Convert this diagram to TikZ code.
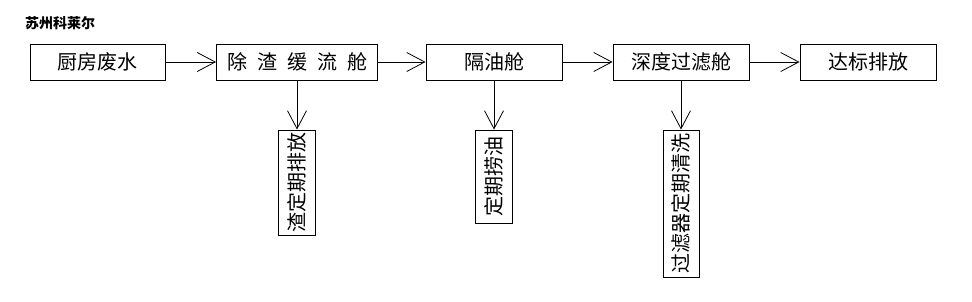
\documentclass[tikz,border=0pt]{standalone}
\usepackage{fontspec}
\setmainfont{Noto Sans CJK SC}
\usetikzlibrary{arrows.meta}
\tikzset{
  box/.style={draw=black, line width=0.9pt, inner sep=0pt, minimum height=36pt,
              font=\fontsize{20pt}{20pt}\selectfont},
  vbox/.style={draw=black, line width=0.9pt, inner sep=0pt, rotate=90,
              font=\fontsize{20pt}{20pt}\selectfont},
  flow/.style={line width=0.8pt, -{Straight Barb[length=18pt,width=19pt,line width=0.8pt]}},
}
\begin{document}
\begin{tikzpicture}[x=1pt,y=-1pt]
\useasboundingbox (0,0) rectangle (972,301);
\node[font=\fontsize{14pt}{14pt}\selectfont\bfseries] (title) at (60,23) {苏州科莱尔};
\node[box, minimum width=135pt] (b1) at (97.5,62) {厨房废水};
\node[box, minimum width=161pt] (b2) at (297,62) {除\hspace{0.5em}渣\hspace{0.5em}缓\hspace{0.5em}流\hspace{0.5em}舱};
\node[box, minimum width=136pt] (b3) at (494,62) {隔油舱};
\node[box, minimum width=136pt] (b4) at (681,62) {深度过滤舱};
\node[box, minimum width=136pt] (b5) at (868,62) {达标排放};
\node[vbox, minimum width=105pt, minimum height=37pt] (v1) at (297,182.5) {渣定期排放};
\node[vbox, minimum width=93pt, minimum height=37pt] (v2) at (494,176.5) {定期捞油};
\node[vbox, minimum width=147pt, minimum height=36pt] (v3) at (681,203.5) {过滤器定期清洗};
\draw[flow] (b1) -- (b2);
\draw[flow] (b2) -- (b3);
\draw[flow] (b3) -- (b4);
\draw[flow] (b4) -- (b5);
\draw[flow] (b2.south) -- (v1.east);
\draw[flow] (b3.south) -- (v2.east);
\draw[flow] (b4.south) -- (v3.east);
\end{tikzpicture}
\end{document}
